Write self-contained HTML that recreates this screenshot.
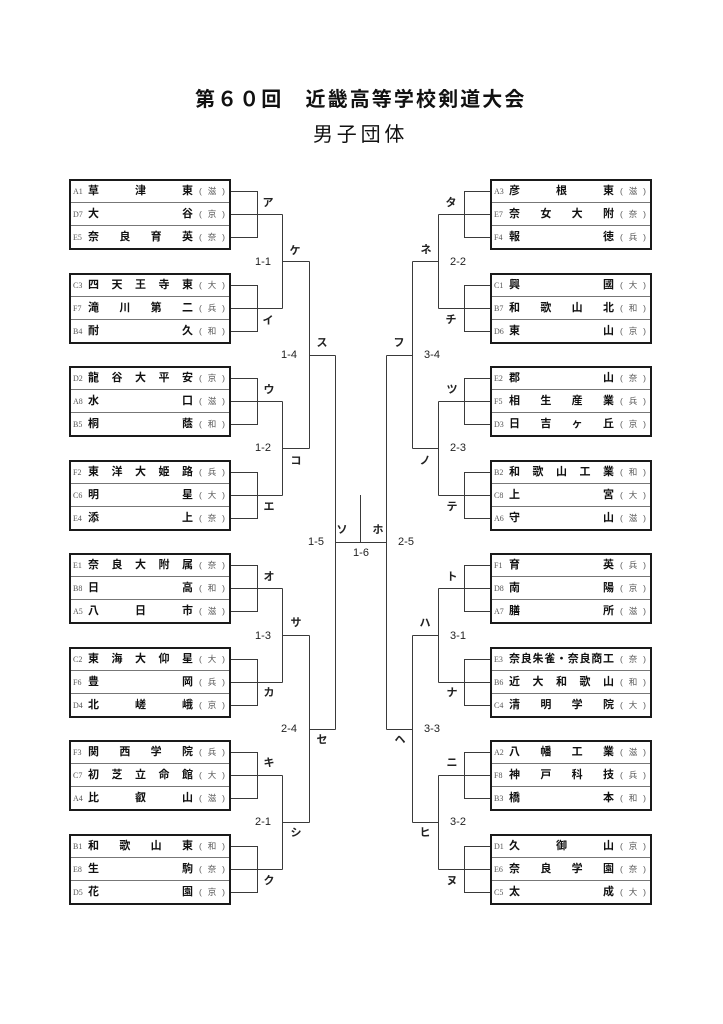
<!DOCTYPE html>
<html><head><meta charset="utf-8">
<style>
*{margin:0;padding:0;box-sizing:content-box}
body{width:723px;height:1024px;overflow:hidden;background:#fff;position:relative;font-family:"Liberation Sans","Noto Sans CJK JP",sans-serif;color:#111}
.t1{position:absolute;left:195px;top:88px;font-size:20px;font-weight:bold;letter-spacing:2.1px;line-height:24px;white-space:nowrap}
.t2{position:absolute;left:313px;top:123px;font-size:20px;letter-spacing:3.8px;line-height:24px;white-space:nowrap}
.box{position:absolute;width:158px;height:67px;border:2px solid #1a1a1a;background:#fff}
.sep{position:absolute;left:0;width:158px;height:1px;background:#777}
.row{position:absolute;left:0;width:158px}
.r1{top:0;height:21px}.r2{top:22px;height:22px}.r3{top:45px;height:22px}
.row span{position:absolute;top:0;height:100%;display:flex;align-items:center}
.row i{font-style:normal;line-height:1}
.sd{left:2px;width:14px;font-family:"Liberation Serif","Noto Serif CJK SC",serif;font-size:8px;color:#555}
.nm{left:17px;width:105px;justify-content:space-between;font-size:11px;font-weight:bold;color:#111}
.pf{left:128px;width:26px;justify-content:space-between;font-size:8.5px;color:#555}
.lb{position:absolute;width:24px;margin-left:-12px;text-align:center;height:14px;margin-top:-7px;line-height:14px;font-size:11px;font-weight:bold;color:#222}
.sc{position:absolute;width:24px;margin-left:-12px;text-align:center;height:14px;margin-top:-7px;line-height:14px;font-size:11px;color:#222}
svg{position:absolute;left:0;top:0}
</style></head><body>
<div class="t1">第６０回　近畿高等学校剣道大会</div>
<div class="t2">男子団体</div>

<svg width="723" height="1024" viewBox="0 0 723 1024">
<g fill="none" stroke="#3a3a3a" stroke-width="1">
<path d="M231 191.5H257.5V237.5H231M231 214.5H282.5"/>
<path d="M231 285.5H257.5V331.5H231M231 308.5H282.5"/>
<path d="M231 378.5H257.5V424.5H231M231 401.5H282.5"/>
<path d="M231 472.5H257.5V518.5H231M231 495.5H282.5"/>
<path d="M231 565.5H257.5V611.5H231M231 588.5H282.5"/>
<path d="M231 659.5H257.5V705.5H231M231 682.5H282.5"/>
<path d="M231 752.5H257.5V798.5H231M231 775.5H282.5"/>
<path d="M231 846.5H257.5V892.5H231M231 869.5H282.5"/>
<path d="M282.5 214.5V308.5M282.5 261.5H309.5"/>
<path d="M282.5 401.5V495.5M282.5 448.5H309.5"/>
<path d="M282.5 588.5V682.5M282.5 635.5H309.5"/>
<path d="M282.5 775.5V869.5M282.5 822.5H309.5"/>
<path d="M309.5 261.5V448.5M309.5 355.5H335.5"/>
<path d="M309.5 635.5V822.5M309.5 729.5H335.5"/>
<path d="M335.5 355.5V729.5M335.5 542.5H386.5M360.5 495V542.5M386.5 355.5V729.5"/>
<path d="M412.5 261.5V448.5M412.5 355.5H386.5"/>
<path d="M412.5 635.5V822.5M412.5 729.5H386.5"/>
<path d="M438.5 214.5V308.5M438.5 261.5H412.5"/>
<path d="M438.5 401.5V495.5M438.5 448.5H412.5"/>
<path d="M438.5 588.5V682.5M438.5 635.5H412.5"/>
<path d="M438.5 775.5V869.5M438.5 822.5H412.5"/>
<path d="M490 191.5H464.5V237.5H490M490 214.5H438.5"/>
<path d="M490 285.5H464.5V331.5H490M490 308.5H438.5"/>
<path d="M490 378.5H464.5V424.5H490M490 401.5H438.5"/>
<path d="M490 472.5H464.5V518.5H490M490 495.5H438.5"/>
<path d="M490 565.5H464.5V611.5H490M490 588.5H438.5"/>
<path d="M490 659.5H464.5V705.5H490M490 682.5H438.5"/>
<path d="M490 752.5H464.5V798.5H490M490 775.5H438.5"/>
<path d="M490 846.5H464.5V892.5H490M490 869.5H438.5"/>
</g>
</svg>

<div class="box" style="left:69px;top:179px"><div class="sep" style="top:21px"></div><div class="sep" style="top:44px"></div>
<div class="row r1"><span class="sd">A1</span><span class="nm"><i>草</i><i>津</i><i>東</i></span><span class="pf"><i>(</i><i>滋</i><i>)</i></span></div>
<div class="row r2"><span class="sd">D7</span><span class="nm"><i>大</i><i>谷</i></span><span class="pf"><i>(</i><i>京</i><i>)</i></span></div>
<div class="row r3"><span class="sd">E5</span><span class="nm"><i>奈</i><i>良</i><i>育</i><i>英</i></span><span class="pf"><i>(</i><i>奈</i><i>)</i></span></div></div>

<div class="box" style="left:69px;top:273px"><div class="sep" style="top:21px"></div><div class="sep" style="top:44px"></div>
<div class="row r1"><span class="sd">C3</span><span class="nm"><i>四</i><i>天</i><i>王</i><i>寺</i><i>東</i></span><span class="pf"><i>(</i><i>大</i><i>)</i></span></div>
<div class="row r2"><span class="sd">F7</span><span class="nm"><i>滝</i><i>川</i><i>第</i><i>二</i></span><span class="pf"><i>(</i><i>兵</i><i>)</i></span></div>
<div class="row r3"><span class="sd">B4</span><span class="nm"><i>耐</i><i>久</i></span><span class="pf"><i>(</i><i>和</i><i>)</i></span></div></div>

<div class="box" style="left:69px;top:366px"><div class="sep" style="top:21px"></div><div class="sep" style="top:44px"></div>
<div class="row r1"><span class="sd">D2</span><span class="nm"><i>龍</i><i>谷</i><i>大</i><i>平</i><i>安</i></span><span class="pf"><i>(</i><i>京</i><i>)</i></span></div>
<div class="row r2"><span class="sd">A8</span><span class="nm"><i>水</i><i>口</i></span><span class="pf"><i>(</i><i>滋</i><i>)</i></span></div>
<div class="row r3"><span class="sd">B5</span><span class="nm"><i>桐</i><i>蔭</i></span><span class="pf"><i>(</i><i>和</i><i>)</i></span></div></div>

<div class="box" style="left:69px;top:460px"><div class="sep" style="top:21px"></div><div class="sep" style="top:44px"></div>
<div class="row r1"><span class="sd">F2</span><span class="nm"><i>東</i><i>洋</i><i>大</i><i>姫</i><i>路</i></span><span class="pf"><i>(</i><i>兵</i><i>)</i></span></div>
<div class="row r2"><span class="sd">C6</span><span class="nm"><i>明</i><i>星</i></span><span class="pf"><i>(</i><i>大</i><i>)</i></span></div>
<div class="row r3"><span class="sd">E4</span><span class="nm"><i>添</i><i>上</i></span><span class="pf"><i>(</i><i>奈</i><i>)</i></span></div></div>

<div class="box" style="left:69px;top:553px"><div class="sep" style="top:21px"></div><div class="sep" style="top:44px"></div>
<div class="row r1"><span class="sd">E1</span><span class="nm"><i>奈</i><i>良</i><i>大</i><i>附</i><i>属</i></span><span class="pf"><i>(</i><i>奈</i><i>)</i></span></div>
<div class="row r2"><span class="sd">B8</span><span class="nm"><i>日</i><i>高</i></span><span class="pf"><i>(</i><i>和</i><i>)</i></span></div>
<div class="row r3"><span class="sd">A5</span><span class="nm"><i>八</i><i>日</i><i>市</i></span><span class="pf"><i>(</i><i>滋</i><i>)</i></span></div></div>

<div class="box" style="left:69px;top:647px"><div class="sep" style="top:21px"></div><div class="sep" style="top:44px"></div>
<div class="row r1"><span class="sd">C2</span><span class="nm"><i>東</i><i>海</i><i>大</i><i>仰</i><i>星</i></span><span class="pf"><i>(</i><i>大</i><i>)</i></span></div>
<div class="row r2"><span class="sd">F6</span><span class="nm"><i>豊</i><i>岡</i></span><span class="pf"><i>(</i><i>兵</i><i>)</i></span></div>
<div class="row r3"><span class="sd">D4</span><span class="nm"><i>北</i><i>嵯</i><i>峨</i></span><span class="pf"><i>(</i><i>京</i><i>)</i></span></div></div>

<div class="box" style="left:69px;top:740px"><div class="sep" style="top:21px"></div><div class="sep" style="top:44px"></div>
<div class="row r1"><span class="sd">F3</span><span class="nm"><i>関</i><i>西</i><i>学</i><i>院</i></span><span class="pf"><i>(</i><i>兵</i><i>)</i></span></div>
<div class="row r2"><span class="sd">C7</span><span class="nm"><i>初</i><i>芝</i><i>立</i><i>命</i><i>館</i></span><span class="pf"><i>(</i><i>大</i><i>)</i></span></div>
<div class="row r3"><span class="sd">A4</span><span class="nm"><i>比</i><i>叡</i><i>山</i></span><span class="pf"><i>(</i><i>滋</i><i>)</i></span></div></div>

<div class="box" style="left:69px;top:834px"><div class="sep" style="top:21px"></div><div class="sep" style="top:44px"></div>
<div class="row r1"><span class="sd">B1</span><span class="nm"><i>和</i><i>歌</i><i>山</i><i>東</i></span><span class="pf"><i>(</i><i>和</i><i>)</i></span></div>
<div class="row r2"><span class="sd">E8</span><span class="nm"><i>生</i><i>駒</i></span><span class="pf"><i>(</i><i>奈</i><i>)</i></span></div>
<div class="row r3"><span class="sd">D5</span><span class="nm"><i>花</i><i>園</i></span><span class="pf"><i>(</i><i>京</i><i>)</i></span></div></div>

<div class="box" style="left:490px;top:179px"><div class="sep" style="top:21px"></div><div class="sep" style="top:44px"></div>
<div class="row r1"><span class="sd">A3</span><span class="nm"><i>彦</i><i>根</i><i>東</i></span><span class="pf"><i>(</i><i>滋</i><i>)</i></span></div>
<div class="row r2"><span class="sd">E7</span><span class="nm"><i>奈</i><i>女</i><i>大</i><i>附</i></span><span class="pf"><i>(</i><i>奈</i><i>)</i></span></div>
<div class="row r3"><span class="sd">F4</span><span class="nm"><i>報</i><i>徳</i></span><span class="pf"><i>(</i><i>兵</i><i>)</i></span></div></div>

<div class="box" style="left:490px;top:273px"><div class="sep" style="top:21px"></div><div class="sep" style="top:44px"></div>
<div class="row r1"><span class="sd">C1</span><span class="nm"><i>興</i><i>國</i></span><span class="pf"><i>(</i><i>大</i><i>)</i></span></div>
<div class="row r2"><span class="sd">B7</span><span class="nm"><i>和</i><i>歌</i><i>山</i><i>北</i></span><span class="pf"><i>(</i><i>和</i><i>)</i></span></div>
<div class="row r3"><span class="sd">D6</span><span class="nm"><i>東</i><i>山</i></span><span class="pf"><i>(</i><i>京</i><i>)</i></span></div></div>

<div class="box" style="left:490px;top:366px"><div class="sep" style="top:21px"></div><div class="sep" style="top:44px"></div>
<div class="row r1"><span class="sd">E2</span><span class="nm"><i>郡</i><i>山</i></span><span class="pf"><i>(</i><i>奈</i><i>)</i></span></div>
<div class="row r2"><span class="sd">F5</span><span class="nm"><i>相</i><i>生</i><i>産</i><i>業</i></span><span class="pf"><i>(</i><i>兵</i><i>)</i></span></div>
<div class="row r3"><span class="sd">D3</span><span class="nm"><i>日</i><i>吉</i><i>ヶ</i><i>丘</i></span><span class="pf"><i>(</i><i>京</i><i>)</i></span></div></div>

<div class="box" style="left:490px;top:460px"><div class="sep" style="top:21px"></div><div class="sep" style="top:44px"></div>
<div class="row r1"><span class="sd">B2</span><span class="nm"><i>和</i><i>歌</i><i>山</i><i>工</i><i>業</i></span><span class="pf"><i>(</i><i>和</i><i>)</i></span></div>
<div class="row r2"><span class="sd">C8</span><span class="nm"><i>上</i><i>宮</i></span><span class="pf"><i>(</i><i>大</i><i>)</i></span></div>
<div class="row r3"><span class="sd">A6</span><span class="nm"><i>守</i><i>山</i></span><span class="pf"><i>(</i><i>滋</i><i>)</i></span></div></div>

<div class="box" style="left:490px;top:553px"><div class="sep" style="top:21px"></div><div class="sep" style="top:44px"></div>
<div class="row r1"><span class="sd">F1</span><span class="nm"><i>育</i><i>英</i></span><span class="pf"><i>(</i><i>兵</i><i>)</i></span></div>
<div class="row r2"><span class="sd">D8</span><span class="nm"><i>南</i><i>陽</i></span><span class="pf"><i>(</i><i>京</i><i>)</i></span></div>
<div class="row r3"><span class="sd">A7</span><span class="nm"><i>膳</i><i>所</i></span><span class="pf"><i>(</i><i>滋</i><i>)</i></span></div></div>

<div class="box" style="left:490px;top:647px"><div class="sep" style="top:21px"></div><div class="sep" style="top:44px"></div>
<div class="row r1"><span class="sd">E3</span><span class="nm"><i>奈</i><i>良</i><i>朱</i><i>雀</i><i>・</i><i>奈</i><i>良</i><i>商</i><i>工</i></span><span class="pf"><i>(</i><i>奈</i><i>)</i></span></div>
<div class="row r2"><span class="sd">B6</span><span class="nm"><i>近</i><i>大</i><i>和</i><i>歌</i><i>山</i></span><span class="pf"><i>(</i><i>和</i><i>)</i></span></div>
<div class="row r3"><span class="sd">C4</span><span class="nm"><i>清</i><i>明</i><i>学</i><i>院</i></span><span class="pf"><i>(</i><i>大</i><i>)</i></span></div></div>

<div class="box" style="left:490px;top:740px"><div class="sep" style="top:21px"></div><div class="sep" style="top:44px"></div>
<div class="row r1"><span class="sd">A2</span><span class="nm"><i>八</i><i>幡</i><i>工</i><i>業</i></span><span class="pf"><i>(</i><i>滋</i><i>)</i></span></div>
<div class="row r2"><span class="sd">F8</span><span class="nm"><i>神</i><i>戸</i><i>科</i><i>技</i></span><span class="pf"><i>(</i><i>兵</i><i>)</i></span></div>
<div class="row r3"><span class="sd">B3</span><span class="nm"><i>橋</i><i>本</i></span><span class="pf"><i>(</i><i>和</i><i>)</i></span></div></div>

<div class="box" style="left:490px;top:834px"><div class="sep" style="top:21px"></div><div class="sep" style="top:44px"></div>
<div class="row r1"><span class="sd">D1</span><span class="nm"><i>久</i><i>御</i><i>山</i></span><span class="pf"><i>(</i><i>京</i><i>)</i></span></div>
<div class="row r2"><span class="sd">E6</span><span class="nm"><i>奈</i><i>良</i><i>学</i><i>園</i></span><span class="pf"><i>(</i><i>奈</i><i>)</i></span></div>
<div class="row r3"><span class="sd">C5</span><span class="nm"><i>太</i><i>成</i></span><span class="pf"><i>(</i><i>大</i><i>)</i></span></div></div>

<div class="lb" style="left:268px;top:203px">ア</div>
<div class="lb" style="left:268px;top:321px">イ</div>
<div class="lb" style="left:269px;top:390px">ウ</div>
<div class="lb" style="left:269px;top:507px">エ</div>
<div class="lb" style="left:269px;top:577px">オ</div>
<div class="lb" style="left:269px;top:693px">カ</div>
<div class="lb" style="left:269px;top:763px">キ</div>
<div class="lb" style="left:269px;top:881px">ク</div>
<div class="lb" style="left:295px;top:251px">ケ</div>
<div class="lb" style="left:296px;top:461px">コ</div>
<div class="lb" style="left:296px;top:623px">サ</div>
<div class="lb" style="left:296px;top:833px">シ</div>
<div class="lb" style="left:322px;top:343px">ス</div>
<div class="lb" style="left:322px;top:740px">セ</div>
<div class="lb" style="left:342px;top:530px">ソ</div>
<div class="sc" style="left:263px;top:262px">1-1</div>
<div class="sc" style="left:263px;top:448px">1-2</div>
<div class="sc" style="left:263px;top:636px">1-3</div>
<div class="sc" style="left:263px;top:822px">2-1</div>
<div class="sc" style="left:289px;top:355px">1-4</div>
<div class="sc" style="left:289px;top:729px">2-4</div>
<div class="sc" style="left:316px;top:542px">1-5</div>
<div class="sc" style="left:361px;top:553px">1-6</div>

<div class="lb" style="left:451px;top:203px">タ</div>
<div class="lb" style="left:451px;top:320px">チ</div>
<div class="lb" style="left:452px;top:390px">ツ</div>
<div class="lb" style="left:452px;top:507px">テ</div>
<div class="lb" style="left:452px;top:577px">ト</div>
<div class="lb" style="left:452px;top:693px">ナ</div>
<div class="lb" style="left:452px;top:763px">ニ</div>
<div class="lb" style="left:452px;top:881px">ヌ</div>
<div class="lb" style="left:426px;top:250px">ネ</div>
<div class="lb" style="left:425px;top:461px">ノ</div>
<div class="lb" style="left:425px;top:623px">ハ</div>
<div class="lb" style="left:425px;top:833px">ヒ</div>
<div class="lb" style="left:399px;top:343px">フ</div>
<div class="lb" style="left:400px;top:740px">ヘ</div>
<div class="lb" style="left:378px;top:530px">ホ</div>
<div class="sc" style="left:458px;top:262px">2-2</div>
<div class="sc" style="left:458px;top:448px">2-3</div>
<div class="sc" style="left:458px;top:636px">3-1</div>
<div class="sc" style="left:458px;top:822px">3-2</div>
<div class="sc" style="left:432px;top:355px">3-4</div>
<div class="sc" style="left:432px;top:729px">3-3</div>
<div class="sc" style="left:406px;top:542px">2-5</div>
</body></html>
